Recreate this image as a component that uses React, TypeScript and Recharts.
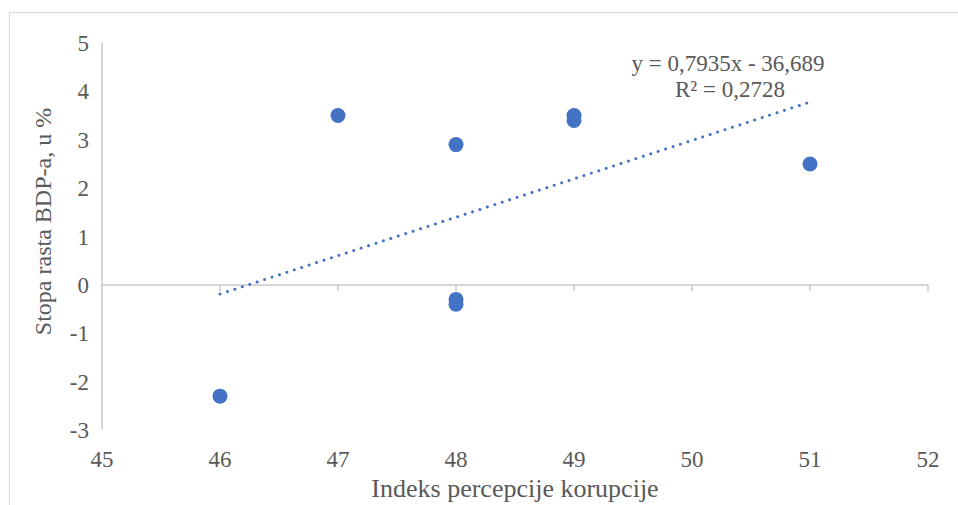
import React from "react";
import {
  ScatterChart,
  Scatter,
  XAxis,
  YAxis,
  ReferenceLine,
  Label,
} from "recharts";

// Indeks percepcije korupcije vs. stopa rasta BDP-a
const cpiValues = [46, 47, 48, 48, 48, 49, 49, 51];
const gdpGrowth = [-2.3, 3.5, 2.9, -0.3, -0.4, 3.5, 3.4, 2.5];

// linear trend line endpoints (Excel style, from x=46 to x=51)
const trendX = [46, 51];
const trendY = [-0.19, 3.78];

const xTicks = [45, 46, 47, 48, 49, 50, 51, 52];
const yTicks = [-3, -2, -1, 0, 1, 2, 3, 4, 5];

const equationText = "y = 0,7935x - 36,689";
const rSquaredText = "R² = 0,2728";

const BLUE = "#4472C4";
const AXIS_GRAY = "#c9c9c9";
const TEXT_GRAY = "#595959";
const FONT = "Liberation Serif";

const points = cpiValues.map((x, i) => ({ x, y: gdpGrowth[i] }));
const trend = trendX.map((x, i) => ({ x, y: trendY[i] }));

const Dot = (props: any) => (
  <circle cx={props.cx} cy={props.cy} r={7.5} fill={BLUE} />
);

const renderXTick = (props: any) => (
  <text
    x={props.x}
    y={props.y}
    dy={15}
    textAnchor="middle"
    fill={TEXT_GRAY}
    fontSize={23}
    fontFamily={FONT}
  >
    {props.payload.value}
  </text>
);

const renderYTick = (props: any) => (
  <text
    x={props.x}
    y={props.y}
    dy={8}
    textAnchor="end"
    fill={TEXT_GRAY}
    fontSize={23}
    fontFamily={FONT}
  >
    {props.payload.value}
  </text>
);

const App: React.FC = () => {
  return (
    <div
      style={{
        position: "absolute",
        left: 0,
        top: 0,
        width: 958,
        height: 505,
        overflow: "hidden",
        background: "#fff",
        fontFamily: FONT,
      }}
    >
      <div
        style={{
          position: "absolute",
          left: 9,
          top: 12,
          width: 1100,
          height: 700,
          borderTop: "1.5px solid #d9d9d9",
          borderLeft: "1.5px solid #d9d9d9",
        }}
      />
      <ScatterChart
        width={958}
        height={505}
        margin={{ top: 43, right: 30, bottom: 0, left: 0 }}
        style={{ position: "absolute", left: 0, top: 0, fontFamily: FONT }}
      >
        <XAxis
          type="number"
          dataKey="x"
          domain={[45, 52]}
          ticks={xTicks}
          allowDataOverflow
          axisLine={false}
          tickLine={false}
          tickMargin={16}
          height={75}
          tick={renderXTick}
        >
          <Label
            value="Indeks percepcije korupcije"
            position="insideBottom"
            offset={8}
            style={{ fill: TEXT_GRAY, fontSize: 26, fontFamily: FONT }}
          />
        </XAxis>
        <YAxis
          type="number"
          dataKey="y"
          domain={[-3, 5]}
          ticks={yTicks}
          allowDataOverflow
          width={102}
          axisLine={{ stroke: AXIS_GRAY, strokeWidth: 1.5 }}
          tickLine={false}
          tickMargin={7}
          tick={renderYTick}
        >
          <Label
            value="Stopa rasta BDP-a, u %"
            angle={-90}
            position="insideLeft"
            offset={42}
            dy={-15}
            style={{
              fill: TEXT_GRAY,
              fontSize: 24,
              fontFamily: FONT,
              textAnchor: "middle",
            }}
          />
        </YAxis>
        <ReferenceLine y={0} stroke={AXIS_GRAY} strokeWidth={1.5} />
        {xTicks.slice(1).map((t) => (
          <ReferenceLine
            key={`tick-${t}`}
            segment={[
              { x: t, y: 0 },
              { x: t, y: -0.13 },
            ]}
            stroke={AXIS_GRAY}
            strokeWidth={1.5}
            ifOverflow="visible"
          />
        ))}
        <Scatter
          data={trend}
          line={{
            stroke: BLUE,
            strokeWidth: 3,
            strokeDasharray: "0.01 7.8",
            strokeLinecap: "round",
          }}
          lineType="joint"
          shape={() => <g />}
          isAnimationActive={false}
        />
        <Scatter
          data={points}
          fill={BLUE}
          shape={Dot}
          isAnimationActive={false}
        />
      </ScatterChart>
      <div
        style={{
          position: "absolute",
          left: 600,
          top: 51,
          width: 256,
          textAlign: "center",
          color: TEXT_GRAY,
          fontSize: 23,
          lineHeight: "26px",
        }}
      >
        <div>{equationText}</div>
        <div style={{ paddingLeft: 4 }}>{rSquaredText}</div>
      </div>
    </div>
  );
};

export default App;
